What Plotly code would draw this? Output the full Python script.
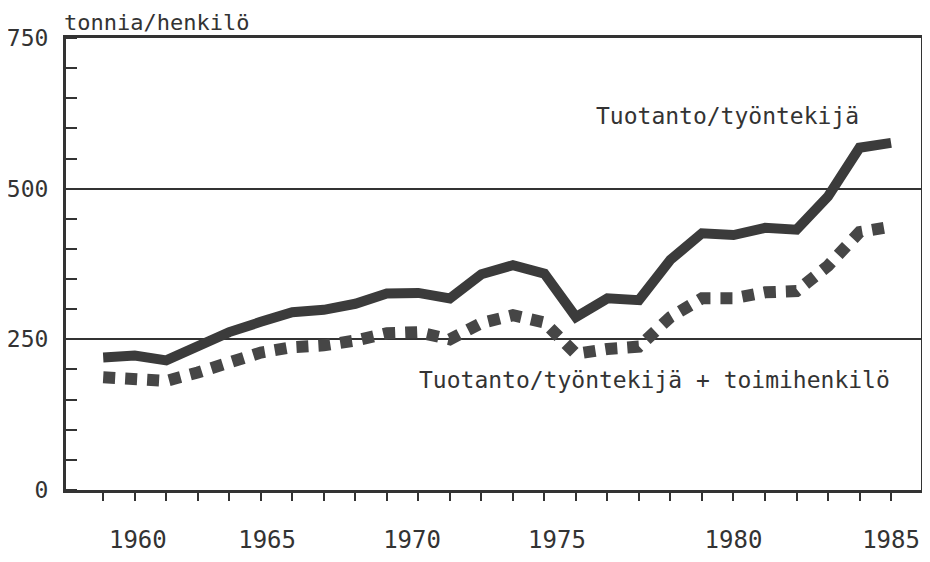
import plotly.graph_objects as go

# ---- data ----
years = list(range(1960, 1986))
prod_per_worker = [220, 223, 215, 239, 262, 279, 295, 299, 309, 326, 327, 318, 358,
                   373, 359, 287, 318, 315, 382, 426, 423, 435, 432, 487, 568, 576]
prod_per_all = [187, 184, 181, 195, 213, 228, 237, 240, 248, 260, 262, 250, 277,
                290, 278, 226, 234, 238, 287, 318, 318, 328, 330, 372, 428, 437]
year_labels = ["1960", "1965", "1970", "1975", "1980", "1985"]
y_ticks = [0, 250, 500, 750]
name_worker = "Tuotanto/työntekijä"
name_all = "Tuotanto/työntekijä + toimihenkilö"
unit_label = "tonnia/henkilö"

# ---- layout constants ----
# positions where the (hand-placed) year labels sit on the original drawing
label_pos = [1961.1, 1965.2, 1969.8, 1974.4, 1980.0, 1985.0]
INK = "#333333"
FONT = "DejaVu Sans Mono"
x_range = [1958.82, 1985.95]
PAGE_OFFSET = 8  # default body margin of the html page

fig = go.Figure()
fig.add_trace(go.Scatter(
    x=years, y=prod_per_worker, mode="lines", name=name_worker,
    line=dict(color="#3b3b3b", width=10), showlegend=False, hoverinfo="skip"))
fig.add_trace(go.Scatter(
    x=years, y=prod_per_all, mode="lines", name=name_all,
    line=dict(color="#464646", width=12, dash="12px,10px"),
    showlegend=False, hoverinfo="skip"))
# carrier trace for the label axis
fig.add_trace(go.Scatter(x=[], y=[], xaxis="x2", showlegend=False, hoverinfo="skip"))

fig.update_layout(
    width=930 - 2 * PAGE_OFFSET, height=562 - 2 * PAGE_OFFSET,
    margin=dict(l=66 - PAGE_OFFSET, r=1, t=38 - PAGE_OFFSET,
                b=72 - PAGE_OFFSET, pad=0, autoexpand=False),
    paper_bgcolor="white", plot_bgcolor="white",
    font=dict(family=FONT, color=INK),
    xaxis=dict(
        range=x_range, showgrid=False, zeroline=False, automargin=False,
        showline=True, mirror=True, linewidth=3, linecolor=INK,
        ticks="outside", ticklen=8, tickwidth=2, tickcolor=INK,
        tickvals=years, showticklabels=False),
    xaxis2=dict(
        range=x_range, overlaying="x", anchor="y", side="bottom",
        automargin=False,
        showgrid=False, zeroline=False, showline=False, ticks="",
        tickvals=label_pos, ticktext=year_labels,
        tickfont=dict(family=FONT, size=24, color=INK),
        ticklabelstandoff=33),
    yaxis=dict(
        range=[0, 750], tickvals=y_ticks, ticks="", automargin=False,
        showgrid=True, gridcolor=INK, gridwidth=1.5, zeroline=False,
        showline=True, mirror=True, linewidth=3, linecolor=INK,
        tickfont=dict(family=FONT, size=23, color=INK),
        ticklabelstandoff=10,
        minor=dict(ticks="inside", ticklen=11, tickwidth=2, tickcolor=INK,
                   dtick=50, tick0=0, showgrid=False)),
    annotations=[
        dict(text=unit_label, xref="paper", yref="paper", x=-0.005, y=1,
             xanchor="left", yanchor="middle", yshift=16, showarrow=False,
             font=dict(family=FONT, size=22, color=INK)),
        dict(text=name_worker, xref="x", yref="y", x=1979.8, y=620,
             xanchor="center", yanchor="middle", showarrow=False,
             font=dict(family=FONT, size=23, color=INK)),
        dict(text=name_all, xref="x", yref="y", x=1977.5, y=183,
             xanchor="center", yanchor="middle", showarrow=False,
             font=dict(family=FONT, size=23, color=INK)),
    ],
)

fig.write_html("out.html")
